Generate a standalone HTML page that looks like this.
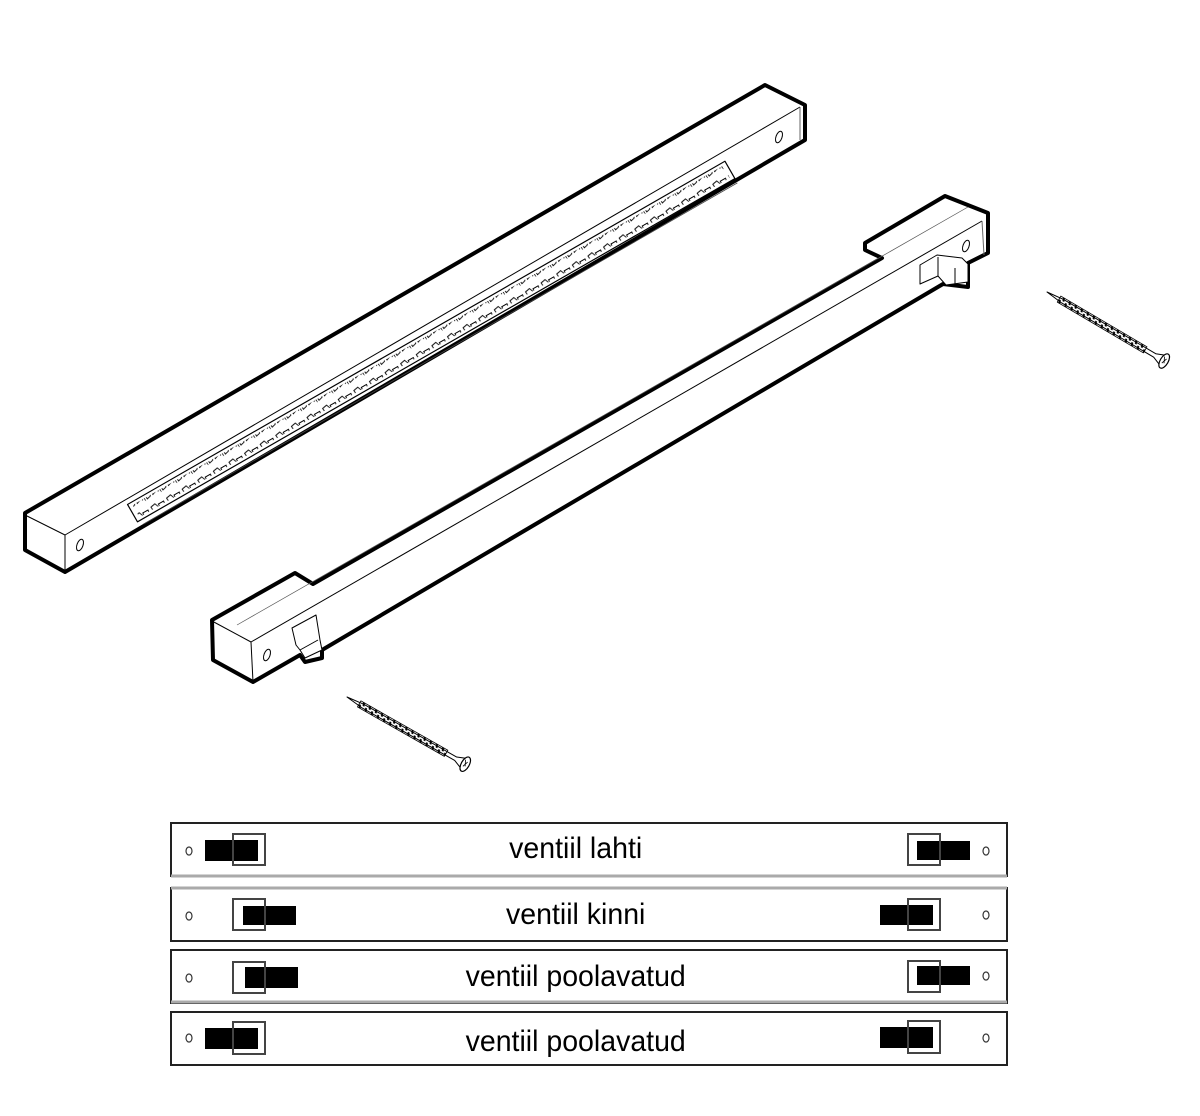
<!DOCTYPE html>
<html><head><meta charset="utf-8"><style>
html,body{margin:0;padding:0;background:#fff;width:1200px;height:1116px;overflow:hidden}
svg{display:block}
text{font-family:"Liberation Sans",sans-serif}
</style></head><body>
<svg width="1200" height="1116" viewBox="0 0 1200 1116" xmlns="http://www.w3.org/2000/svg">
<defs>
<pattern id="z" width="18" height="20" patternUnits="userSpaceOnUse">
<path d="M1,3 l5,-1 l2,5 l-2,6 l-4,1 z M9,4 l6,0 l-1,7 l-5,2 z M15,13 l2,-4 l1,6" fill="none" stroke="#000" stroke-width="0.9"/>
</pattern>
<pattern id="t" width="7" height="10" patternUnits="userSpaceOnUse">
<line x1="1" y1="0" x2="5" y2="10" stroke="#000" stroke-width="2"/>
</pattern>
</defs>
<g fill="none" stroke="#000" stroke-linejoin="round">
<!-- Bar 1 -->
<polygon points="25,513 765,85 805,105 805,140 65,572 25,550" fill="#fff" stroke-width="4"/>
<line x1="25" y1="515" x2="65" y2="535" stroke-width="1"/>
<line x1="65" y1="535" x2="65" y2="572" stroke-width="1"/>
<line x1="65" y1="535" x2="800" y2="107" stroke-width="1"/>
<line x1="800" y1="107" x2="800" y2="140" stroke-width="1" stroke="#666"/>
<ellipse cx="80" cy="545" rx="3" ry="6" transform="rotate(20 80 545)" stroke-width="1"/>
<ellipse cx="779" cy="137" rx="3" ry="6" transform="rotate(20 779 137)" stroke-width="1"/>
<g transform="translate(133,514) rotate(-29.88)">
<rect x="0" y="-11" width="689" height="20" stroke-width="1.2"/>
<rect x="4" y="-8" width="681" height="14" fill="url(#z)" stroke="none"/>
<line x1="4" y1="14" x2="689" y2="14" stroke-width="0.8" stroke="#444"/>
</g>
<!-- Bar 2 -->
<polygon points="212,620 295,573 313,584 882,258 865,250 865,243 945,196 988,213 988,253 968,263 968,287 943,284 322,650 322,658 305,662 300,655 253,682 213,660" fill="#fff" stroke-width="4"/>
<line x1="212" y1="621" x2="251" y2="642" stroke-width="1"/>
<line x1="251" y1="642" x2="253" y2="682" stroke-width="1"/>
<line x1="251" y1="642" x2="982" y2="221" stroke-width="1"/>
<line x1="237" y1="625" x2="968" y2="207" stroke-width="0.7" stroke="#555"/>
<line x1="982" y1="221" x2="984" y2="255" stroke-width="1" stroke="#666"/>
<ellipse cx="267" cy="655" rx="3" ry="6" transform="rotate(20 267 655)" stroke-width="1"/>
<ellipse cx="966" cy="246" rx="3" ry="6" transform="rotate(20 966 246)" stroke-width="1"/>
<!-- pegs -->
<polygon points="292,628 316,615 320,640 322,650 305,658 300,650 296,645" fill="#fff" stroke-width="1"/>
<line x1="300" y1="650" x2="318" y2="640" stroke-width="1"/>
<polygon points="920,265 937,255 962,258 968,264 968,282 946,285 938,276 920,284" fill="#fff" stroke-width="1"/>
<line x1="938" y1="257" x2="938" y2="276" stroke-width="1"/>
<line x1="955" y1="268" x2="955" y2="285" stroke-width="1"/>
<!-- screws -->
<g transform="translate(347,697) rotate(29.6)">
<path d="M0,0 L18,-2 L125,-2 L135,-6 L135,6 L125,2 L18,2 Z" fill="#fff" stroke-width="1"/>
<rect x="14" y="-3.5" width="100" height="7" fill="url(#t)" stroke="#000" stroke-width="0.8"/>
<ellipse cx="136" cy="0" rx="4" ry="8" fill="#fff" stroke-width="1.2"/>
<path d="M134,-4 l3,6 M137,-3 l-2,6" stroke-width="0.8"/>
</g>
<g transform="translate(1047,292) rotate(30.5)">
<path d="M0,0 L18,-2 L125,-2 L135,-6 L135,6 L125,2 L18,2 Z" fill="#fff" stroke-width="1"/>
<rect x="14" y="-3.5" width="100" height="7" fill="url(#t)" stroke="#000" stroke-width="0.8"/>
<ellipse cx="136" cy="0" rx="4" ry="8" fill="#fff" stroke-width="1.2"/>
<path d="M134,-4 l3,6 M137,-3 l-2,6" stroke-width="0.8"/>
</g>
</g>
<!-- Panels -->
<g>
<rect x="171" y="823" width="836" height="53" fill="#fff" stroke="#222" stroke-width="2"/>
<line x1="171" y1="876" x2="1007" y2="876" stroke="#aaa" stroke-width="3"/>
<rect x="171" y="888" width="836" height="53" fill="#fff" stroke="#222" stroke-width="2"/>
<line x1="171" y1="888" x2="1007" y2="888" stroke="#aaa" stroke-width="3"/>
<rect x="171" y="950" width="836" height="53" fill="#fff" stroke="#222" stroke-width="2"/>
<line x1="171" y1="1002" x2="1007" y2="1002" stroke="#aaa" stroke-width="3"/>
<rect x="171" y="1012" width="836" height="53" fill="#fff" stroke="#222" stroke-width="2"/>
</g>
<g fill="none" stroke="#333" stroke-width="1.2">
<ellipse cx="189" cy="851" rx="3" ry="4"/><ellipse cx="986" cy="851" rx="3" ry="4"/>
<ellipse cx="189" cy="916" rx="3" ry="4"/><ellipse cx="986" cy="915" rx="3" ry="4"/>
<ellipse cx="189" cy="978" rx="3" ry="4"/><ellipse cx="986" cy="976" rx="3" ry="4"/>
<ellipse cx="189" cy="1038" rx="3" ry="4"/><ellipse cx="986" cy="1038" rx="3" ry="4"/>
</g>
<g fill="#000">
<rect x="205" y="840" width="53" height="21"/><rect x="917" y="841" width="53" height="19"/>
<rect x="243" y="906" width="53" height="19"/><rect x="880" y="905" width="53" height="20"/>
<rect x="245" y="967" width="53" height="21"/><rect x="917" y="966" width="53" height="19"/>
<rect x="205" y="1028" width="53" height="21"/><rect x="880" y="1027" width="53" height="21"/>
</g>
<g fill="none" stroke="#444" stroke-width="2">
<rect x="233" y="834" width="32" height="31"/><rect x="908" y="834" width="32" height="31"/>
<rect x="233" y="899" width="32" height="31"/><rect x="908" y="899" width="32" height="31"/>
<rect x="233" y="962" width="32" height="31"/><rect x="908" y="961" width="32" height="31"/>
<rect x="233" y="1022" width="32" height="32"/><rect x="908" y="1021" width="32" height="32"/>
</g>
<g font-size="30" text-anchor="middle" fill="#000" transform="scale(0.95,1)">
<text x="606" y="858">ventiil lahti</text>
<text x="606" y="924">ventiil kinni</text>
<text x="606" y="986">ventiil poolavatud</text>
<text x="606" y="1051">ventiil poolavatud</text>
</g>
</svg>
</body></html>
